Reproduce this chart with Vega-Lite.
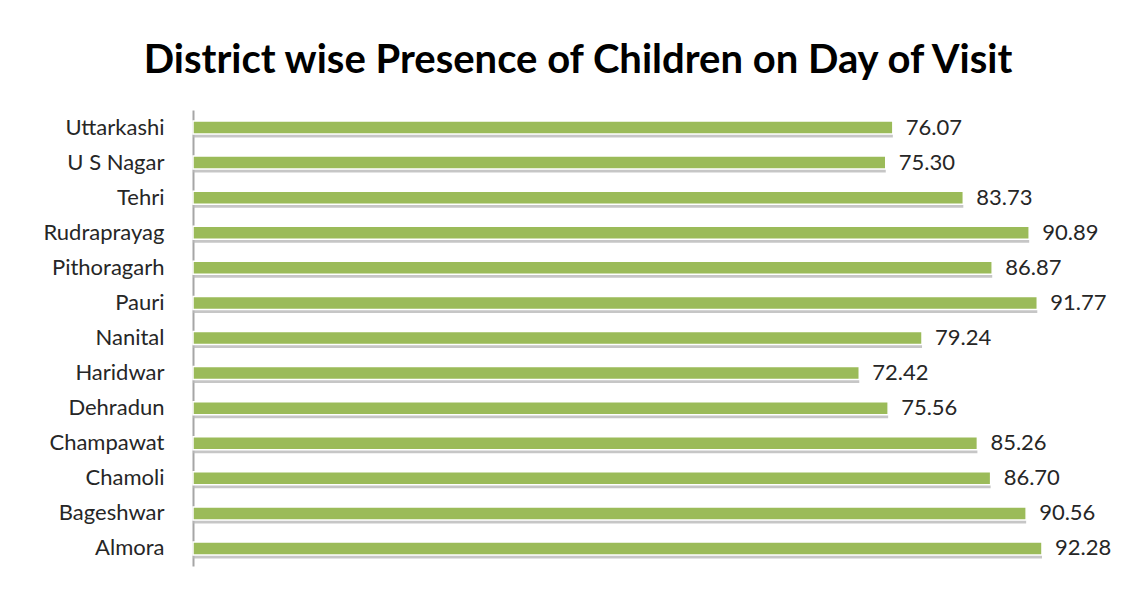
{
  "$schema": "https://vega.github.io/schema/vega-lite/v6.json",
  "width": 920,
  "height": 456,
  "autosize": {"type": "none"},
  "padding": {"left": 193, "top": 110, "right": 23, "bottom": 27},
  "background": "white",
  "config": {"view": {"stroke": null}, "font": "Lato"},
  "title": {
    "text": "District wise Presence of Children on Day of Visit",
    "font": "Lato",
    "fontSize": 40,
    "fontWeight": "bold",
    "color": "#000000",
    "anchor": "middle",
    "dx": -75,
    "offset": -3,
    "baseline": "alphabetic"
  },
  "data": {
    "values": [
      {"district": "Uttarkashi", "value": 76.07},
      {"district": "U S Nagar", "value": 75.30},
      {"district": "Tehri", "value": 83.73},
      {"district": "Rudraprayag", "value": 90.89},
      {"district": "Pithoragarh", "value": 86.87},
      {"district": "Pauri", "value": 91.77},
      {"district": "Nanital", "value": 79.24},
      {"district": "Haridwar", "value": 72.42},
      {"district": "Dehradun", "value": 75.56},
      {"district": "Champawat", "value": 85.26},
      {"district": "Chamoli", "value": 86.70},
      {"district": "Bageshwar", "value": 90.56},
      {"district": "Almora", "value": 92.28}
    ]
  },
  "encoding": {
    "y": {
      "field": "district",
      "type": "nominal",
      "sort": null,
      "title": null,
      "scale": {"paddingInner": 0.6, "paddingOuter": 0.3},
      "axis": {
        "ticks": false,
        "domainColor": "#a6a6a6",
        "domainWidth": 2,
        "labelFontSize": 22,
        "labelColor": "#262626",
        "labelPadding": 29,
        "labelFont": "Lato"
      }
    },
    "x": {
      "field": "value",
      "type": "quantitative",
      "scale": {"domain": [0, 100]},
      "axis": null
    }
  },
  "layer": [
    {
      "mark": {"type": "bar", "color": "#b8b8b8", "yOffset": 4, "height": 12, "opacity": 0.8}
    },
    {
      "mark": {"type": "bar", "color": "#9bbb59", "height": 13, "stroke": "#ffffff", "strokeWidth": 1.5}
    },
    {
      "mark": {"type": "text", "align": "left", "baseline": "middle", "dx": 13, "fontSize": 22, "color": "#262626", "font": "Lato"},
      "encoding": {"text": {"field": "value", "type": "quantitative", "format": ".2f"}}
    }
  ]
}
